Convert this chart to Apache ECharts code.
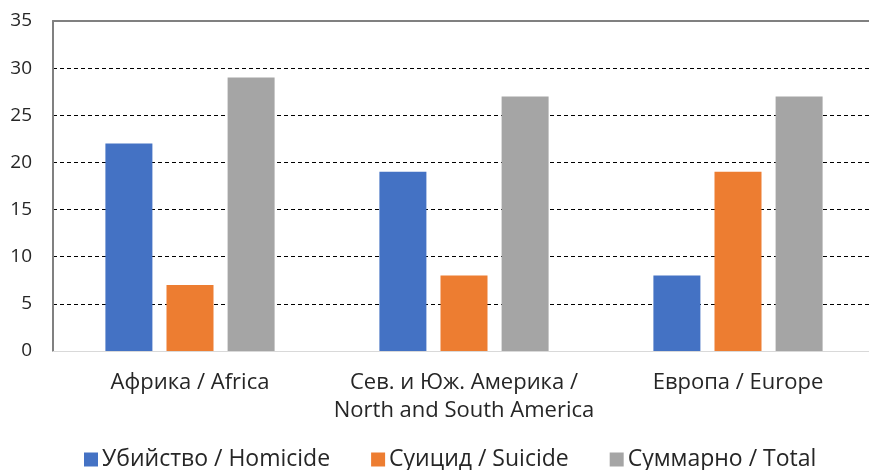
<!DOCTYPE html>
<html>
<head>
<meta charset="utf-8">
<script src="https://cdn.jsdelivr.net/npm/echarts@6/dist/echarts.min.js"></script>
<style>
  html, body { margin: 0; padding: 0; background: #fff; overflow: hidden; }
  #chart { width: 880px; height: 470px; }
</style>
</head>
<body>
<div id="chart"></div>
<script>
// Regions along the x axis
const categories = ['Африка / Africa', 'Сев. и Юж. Америка /\nNorth and South America', 'Европа / Europe'];
// Series names and values
const seriesNames = ['Убийство / Homicide', 'Суицид / Suicide', 'Суммарно / Total'];
const homicide = [22, 19, 8];
const suicide = [7, 8, 19];
const total = [29, 27, 27];
const colors = ['#4472C4', '#ED7D31', '#A5A5A5'];
const yTicks = { min: 0, max: 35, interval: 5 };

const chart = echarts.init(document.getElementById('chart'));
const font = '"Open Sans", "Noto Sans", sans-serif';

chart.setOption({
  animation: false,
  grid: { left: 53, width: 822, top: 21, height: 330, containLabel: false },
  legend: {
    top: 443,
    left: 79,
    itemWidth: 14,
    itemHeight: 14,
    itemGap: 41,
    icon: 'rect',
    textStyle: { fontFamily: font, fontSize: 23, color: '#262626', padding: [0, 0, 0, -1] },
    data: seriesNames
  },
  xAxis: [{
    type: 'category',
    data: categories,
    axisLine: { show: true, lineStyle: { color: '#d9d9d9', width: 1 } },
    axisTick: { show: false },
    axisLabel: {
      interval: 0,
      fontFamily: font, fontSize: 22, color: '#262626', margin: 18, lineHeight: 28
    },
    z: 5
  }, {
    type: 'category',
    position: 'top',
    data: categories,
    axisLine: { show: true, lineStyle: { color: '#808080', width: 2 } },
    axisTick: { show: false },
    axisLabel: { show: false },
    z: 5
  }],
  yAxis: {
    type: 'value',
    min: yTicks.min,
    max: yTicks.max,
    interval: yTicks.interval,
    axisLine: { show: true, lineStyle: { color: '#808080', width: 2 } },
    axisTick: { show: false },
    axisLabel: { fontFamily: font, fontSize: 19, color: '#262626', margin: 21 },
    splitLine: { show: true, lineStyle: { color: '#000', type: [4, 3], width: 1 } }
  },
  series: [homicide, suicide, total].map((vals, i) => ({
    name: seriesNames[i],
    type: 'bar',
    data: vals,
    barWidth: 47,
    barGap: '30%',
    itemStyle: { color: colors[i] }
  }))
});
</script>
</body>
</html>
